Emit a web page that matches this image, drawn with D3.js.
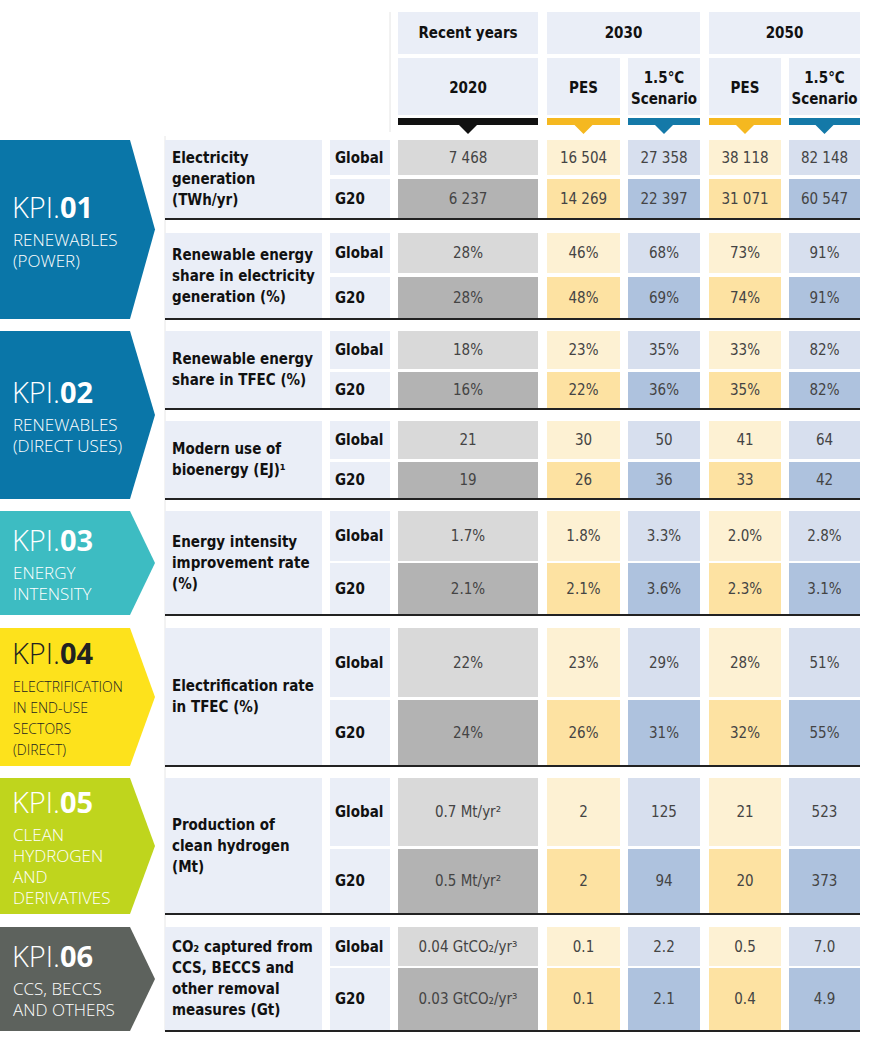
<!DOCTYPE html>
<html><head><meta charset="utf-8">
<script src="https://cdn.jsdelivr.net/npm/d3@7"></script>
<style>body{margin:0;background:#fff;font-family:"DejaVu Sans Condensed","Roboto Condensed","Liberation Sans Narrow",sans-serif}</style>
</head><body><svg id="c" width="870" height="1042"></svg>
<script>
const columns = ["2020", "PES 2030", "1.5°C 2030", "PES 2050", "1.5°C 2050"];
const metrics = [
  ["Electricity", "generation", "(TWh/yr)"],
  ["Renewable energy", "share in electricity", "generation (%)"],
  ["Renewable energy", "share in TFEC (%)"],
  ["Modern use of", "bioenergy (EJ)¹"],
  ["Energy intensity", "improvement rate", "(%)"],
  ["Electrification rate", "in TFEC (%)"],
  ["Production of", "clean hydrogen", "(Mt)"],
  ["CO₂ captured from", "CCS, BECCS and", "other removal", "measures (Gt)"]
];
const globalVals = [
  ["7 468", "16 504", "27 358", "38 118", "82 148"],
  ["28%", "46%", "68%", "73%", "91%"],
  ["18%", "23%", "35%", "33%", "82%"],
  ["21", "30", "50", "41", "64"],
  ["1.7%", "1.8%", "3.3%", "2.0%", "2.8%"],
  ["22%", "23%", "29%", "28%", "51%"],
  ["0.7 Mt/yr²", "2", "125", "21", "523"],
  ["0.04 GtCO₂/yr³", "0.1", "2.2", "0.5", "7.0"]
];
const g20Vals = [
  ["6 237", "14 269", "22 397", "31 071", "60 547"],
  ["28%", "48%", "69%", "74%", "91%"],
  ["16%", "22%", "36%", "35%", "82%"],
  ["19", "26", "36", "33", "42"],
  ["2.1%", "2.1%", "3.6%", "2.3%", "3.1%"],
  ["24%", "26%", "31%", "32%", "55%"],
  ["0.5 Mt/yr²", "2", "94", "20", "373"],
  ["0.03 GtCO₂/yr³", "0.1", "2.1", "0.4", "4.9"]
];
const kpis = [
  {num: "01", name: ["RENEWABLES", "(POWER)"], metrics: [0, 1], color: "#0a76a8", text: "#fff"},
  {num: "02", name: ["RENEWABLES", "(DIRECT USES)"], metrics: [2, 3], color: "#0a76a8", text: "#fff"},
  {num: "03", name: ["ENERGY", "INTENSITY"], metrics: [4], color: "#3dbcc2", text: "#fff"},
  {num: "04", name: ["ELECTRIFICATION", "IN END-USE", "SECTORS", "(DIRECT)"], metrics: [5], color: "#fde21c", text: "#222"},
  {num: "05", name: ["CLEAN", "HYDROGEN", "AND", "DERIVATIVES"], metrics: [6], color: "#bfd51d", text: "#fff"},
  {num: "06", name: ["CCS, BECCS", "AND OTHERS"], metrics: [7], color: "#5d625d", text: "#fff"}
];

// layout: [globalTop, globalBottom, g20Top, g20Bottom, line]
const rowBox = [
  [140,175,179,218,219],[233,273,277,318,319],[331,369,372,408,409],[421,459,462,498,499],
  [511,561,563,614,615],[628,697,700,765,766],[778,846,849,913,914],[927,966,968,1030,1031]
];
const colX = [[398,538],[547,620],[628,700],[709,781],[789,860]];
const globalFill = ["#d9d9d9","#fdf1d3","#d7dfee","#fdf1d3","#d7dfee"];
const g20Fill = ["#b3b3b3","#fde2a2","#aec2de","#fde2a2","#aec2de"];
const barFill = ["#111","#f5b820","#1479a8","#f5b820","#1479a8"];

const svg = d3.select("#c");
const bold = "font-weight:bold";

// header
const hdr = svg.append("g");
const hbg = "#eaeef7";
[["Recent years",398,538],["2030",547,700],["2050",709,860]].forEach(([t,a,b]) => {
  hdr.append("rect").attr("x",a).attr("y",12).attr("width",b-a).attr("height",42).attr("fill",hbg);
  hdr.append("text").attr("x",(a+b)/2).attr("y",38).attr("text-anchor","middle").attr("font-size",15).attr("font-weight","bold").attr("fill","#111").text(t);
});
const sub = [["2020"],["PES"],["1.5°C","Scenario"],["PES"],["1.5°C","Scenario"]];
colX.forEach(([a,b],i) => {
  hdr.append("rect").attr("x",a).attr("y",58).attr("width",b-a).attr("height",57).attr("fill",hbg);
  const lines = sub[i];
  lines.forEach((l,j) => hdr.append("text").attr("x",(a+b)/2).attr("y",93 - (lines.length-1)*10 + j*21)
    .attr("text-anchor","middle").attr("font-size",15).attr("font-weight","bold").attr("fill","#111").text(l));
  hdr.append("rect").attr("x",a).attr("y",118).attr("width",b-a).attr("height",7).attr("fill",barFill[i]);
  const m = (a+b)/2;
  hdr.append("path").attr("d",`M${m-9},125L${m+9},125L${m},134Z`).attr("fill",barFill[i]);
});
svg.append("line").attr("x1",390).attr("x2",390).attr("y1",12).attr("y2",132).attr("stroke","#e4e4e4");
svg.append("line").attr("x1",165).attr("x2",165).attr("y1",136).attr("y2",1031).attr("stroke","#e6e6e6");

// body
const body = svg.append("g");
metrics.forEach((lab,mi) => {
  const [gt,gb,ht,hb,ln] = rowBox[mi];
  body.append("rect").attr("x",165).attr("y",gt).attr("width",157).attr("height",hb-gt).attr("fill",hbg);
  const midY = (gt+hb)/2;
  lab.forEach((l,j) => body.append("text").attr("x",172).attr("y",midY + 5 + (j-(lab.length-1)/2)*21)
    .attr("font-size",15).attr("font-weight","bold").attr("fill","#111").text(l));
  [["Global",gt,gb,globalVals[mi],globalFill],["G20",ht,hb,g20Vals[mi],g20Fill]].forEach(([r,t,b,vals,fills]) => {
    body.append("rect").attr("x",330).attr("y",t).attr("width",60).attr("height",b-t).attr("fill",hbg);
    body.append("text").attr("x",335).attr("y",(t+b)/2+5).attr("font-size",15).attr("font-weight","bold").attr("fill","#111").text(r);
    colX.forEach(([a,c],i) => {
      body.append("rect").attr("x",a).attr("y",t).attr("width",c-a).attr("height",b-t).attr("fill",fills[i]);
      body.append("text").attr("x",(a+c)/2).attr("y",(t+b)/2+5).attr("text-anchor","middle")
        .attr("font-size",15).attr("fill","#444").text(vals[i]);
    });
  });
  body.append("line").attr("x1",165).attr("x2",860).attr("y1",ln).attr("y2",ln).attr("stroke","#222").attr("stroke-width",2);
});

// KPI banners
kpis.forEach(k => {
  const top = rowBox[k.metrics[0]][0];
  const bot = rowBox[k.metrics[k.metrics.length-1]][3] + 1;
  const mid = (top+bot)/2;
  const g = svg.append("g");
  g.append("path").attr("d",`M0,${top}L130,${top}L155,${mid}L130,${bot}L0,${bot}Z`).attr("fill",k.color);
  const nl = k.name.length;
  const blockH = 34 + nl*21;
  const y0 = mid - blockH/2 + 26;
  const t = g.append("text").attr("x",12).attr("y",y0).attr("font-size",29).attr("fill",k.text)
    .attr("font-family","'Open Sans',sans-serif");
  t.append("tspan").attr("font-weight",300).text("KPI.");
  t.append("tspan").attr("font-weight","bold").text(k.num);
  k.name.forEach((n,j) => g.append("text").attr("x",13).attr("y",y0 + 28 + j*21)
    .attr("font-size",k.num==="04"?14:17).attr("fill",k.text).attr("font-family","'Open Sans',sans-serif").attr("font-weight",300).text(n));
});
</script></body></html>
